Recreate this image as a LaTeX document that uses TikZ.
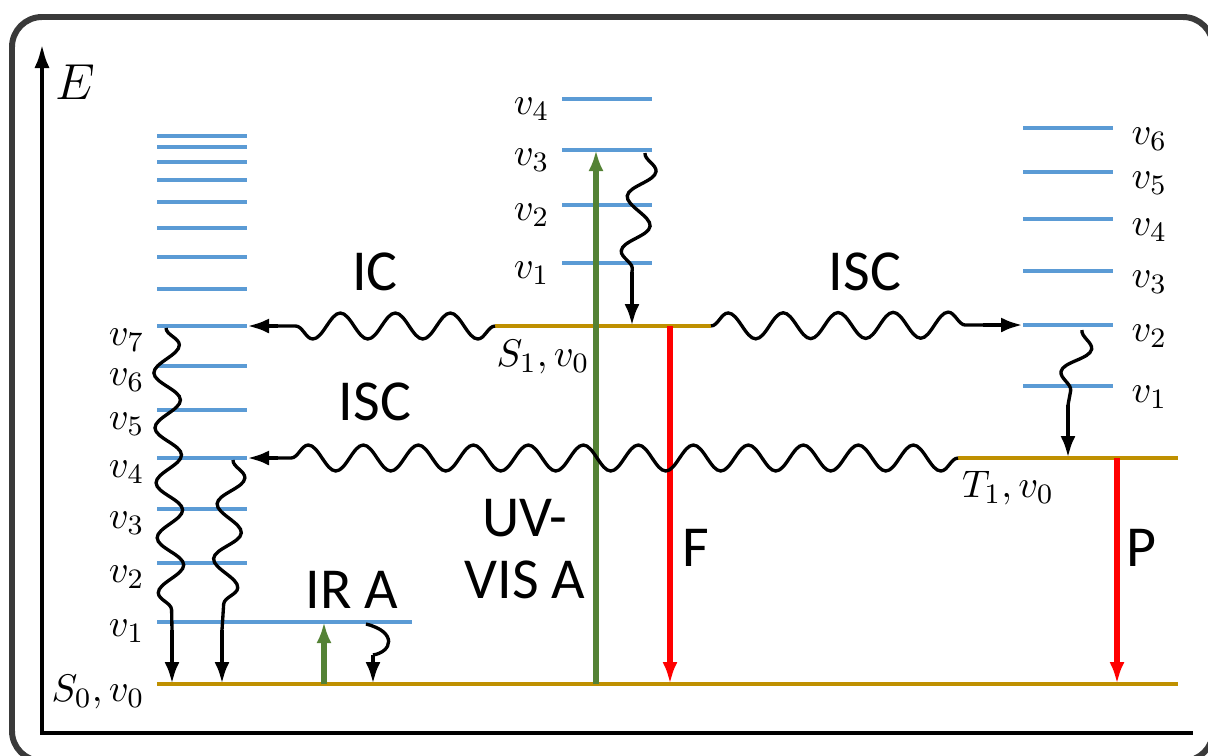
\documentclass[tikz,border=0pt]{standalone}
\usepackage[no-math]{fontspec}
\newfontfamily\calibri{Carlito}
\usepackage{tikz}
\usetikzlibrary{arrows.meta,decorations.pathmorphing}

\definecolor{levelblue}{HTML}{5B9BD5}
\definecolor{levelgold}{HTML}{BF9000}
\definecolor{absgreen}{HTML}{548235}
\definecolor{emitred}{HTML}{FF0000}
\definecolor{framegray}{HTML}{3A3A3A}

\begin{document}
\begin{tikzpicture}[x=0.1mm, y=-0.1mm,
	vib/.style={draw=levelblue, line width=1.1pt},
	ground/.style={draw=levelgold, line width=1.1pt},
	wave/.style={decorate, decoration={snake, amplitude=1.3mm, segment length=5.5mm}, line width=0.95pt},
	relax/.style={line width=1.4pt, -{Latex[length=2.2mm, width=1.5mm]}},
	absorb/.style={draw=absgreen, line width=1.5pt, -{Latex[length=2.1mm, width=1.5mm]}},
	emit/.style={draw=emitred, line width=1.5pt, -{Latex[length=2.2mm, width=1.5mm]}},
	vlabel/.style={inner sep=0pt, font=\fontsize{11}{13}\selectfont},
	proc/.style={inner sep=0pt, align=center, font=\calibri\fontsize{16.5}{17.6}\selectfont}]

	\useasboundingbox (0,0) rectangle (1208,755);
	\draw[framegray, line width=1.7pt, rounded corners=3mm] (12,17) rectangle (1213,761);

	% energy axis
	\coordinate (Etop) at (42,43);
	\coordinate (origin) at (42,733);
	\coordinate (xend) at (1193,733);
	\draw[line width=1.4pt, {Latex[length=2.5mm, width=1.5mm]}-] (Etop) -- (origin) -- (xend);
	\node[inner sep=0pt, font=\fontsize{15.5}{18}\selectfont] (E) at (75,82) {$E$};

	% S0
	\foreach \y in {136,147,162,180,202,228,257,289}
		\draw[vib] (157,\y) -- (247,\y);
	\foreach \y/\n in {326/7,366/6,410/5,458/4,509/3,563/2}{
		\draw[vib] (157,\y) -- (247,\y) coordinate (a\n);
		\node[vlabel, anchor=east] (la\n) at (145,\y+14) {$v_{\n}$};
	}
	\draw[vib] (157,622) -- (412,622) coordinate (a1);
	\node[vlabel, anchor=east] (la1) at (145,631) {$v_{1}$};
	\draw[ground] (157,684) coordinate (s0w) -- (1178,684) coordinate (s0e);
	\node[vlabel, anchor=east] (ls0) at (145,692) {$S_0,v_0$};

	% S1
	\foreach \y/\n in {99/4,150/3,205/2,263/1}{
		\draw[vib] (562,\y) -- (652,\y) coordinate (b\n);
		\node[vlabel, anchor=east] (lb\n) at (550,\y+10) {$v_{\n}$};
	}
	\draw[ground] (495,326) coordinate (s1w) -- (711,326) coordinate (s1e);
	\node[vlabel] (ls1) at (543,357) {$S_1,v_0$};

	% T1
	\foreach \y/\n in {128/6,172/5,219/4,271/3,325/2,386/1}{
		\draw[vib] (1023,\y) coordinate (cw\n) -- (1113,\y);
		\node[vlabel, anchor=west] (lc\n) at (1131,\y+11) {$v_{\n}$};
	}
	\draw[ground] (958,458) coordinate (t1w) -- (1178,458) coordinate (t1e);
	\node[vlabel] (lt1) at (1008,488) {$T_1,v_0$};

	% absorption and emission
	\coordinate (uv0) at (596,684);
	\coordinate (uv1) at (596,150);
	\coordinate (ir0) at (324,684);
	\coordinate (ir1) at (324,622);
	\coordinate (fl0) at (670,326);
	\coordinate (fl1) at (670,684);
	\coordinate (ph0) at (1117,458);
	\coordinate (ph1) at (1117,684);
	\draw[absorb] (uv0) -- (uv1);
	\draw[absorb] (ir0) -- (ir1);
	\draw[emit] (fl0) -- (fl1);
	\draw[emit] (ph0) -- (ph1);

	% IC and ISC
	\coordinate (ic) at (278,326);
	\draw[wave] (s1w) -- (ic);
	\draw[relax] (ic) -- (a7);
	\coordinate (isc1) at (983,325);
	\draw[wave] (s1e) -- (isc1);
	\draw[relax] (isc1) -- (cw2);
	\coordinate (isc2) at (278,458);
	\draw[wave] (t1w) -- (isc2);
	\draw[relax] (isc2) -- (a4);

	% vibrational relaxation
	\coordinate (vra) at (166,328);
	\coordinate (vrb) at (172,630);
	\coordinate (vrc) at (172,684);
	\draw[wave] (vra) -- (vrb);
	\draw[relax] (vrb) -- (vrc);
	\coordinate (vsa) at (233,460);
	\coordinate (vsb) at (222,630);
	\coordinate (vsc) at (222,684);
	\draw[wave] (vsa) -- (vsb);
	\draw[relax] (vsb) -- (vsc);
	\coordinate (vta) at (645,153);
	\coordinate (vtb) at (632,272);
	\coordinate (vtc) at (632,326);
	\draw[wave] (vta) -- (vtb);
	\draw[relax] (vtb) -- (vtc);
	\coordinate (vua) at (1082,330);
	\coordinate (vub) at (1068,405);
	\coordinate (vuc) at (1068,458);
	\draw[wave] (vua) -- (vub);
	\draw[relax] (vub) -- (vuc);
	\coordinate (vwa) at (366,624);
	\coordinate (vwb) at (373,655);
	\coordinate (vwc) at (373,684);
	\draw[line width=0.95pt] (vwa) .. controls (398,632) and (392,652) .. (vwb);
	\draw[relax] (vwb) -- (vwc);

	% labels
	\node[proc] (IC) at (375,272) {IC};
	\node[proc] (ISCa) at (865,272) {ISC};
	\node[proc] (ISCb) at (375,402) {ISC};
	\node[proc] (IRA) at (352,590) {IR A};
	\node[proc] (UV) at (525,549) {UV-\\VIS A};
	\node[proc] (F) at (696,548) {F};
	\node[proc] (P) at (1141,548) {P};
\end{tikzpicture}
\end{document}
